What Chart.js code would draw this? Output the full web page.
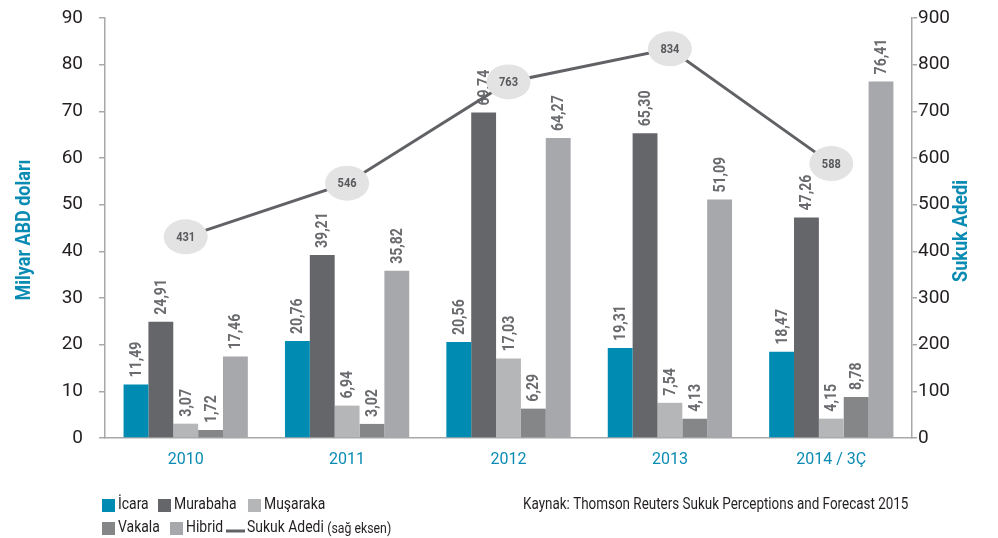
<!DOCTYPE html>
<html>
<head>
<meta charset="utf-8">
<script src="https://cdn.jsdelivr.net/npm/chart.js@4.4.0/dist/chart.umd.min.js"></script>
<style>
  html, body { margin: 0; padding: 0; background: #fff; }
  #wrap { width: 998px; height: 538px; }
</style>
</head>
<body>
<div id="wrap"><canvas id="sukuk-chart" width="998" height="538"></canvas></div>
<script>
// Chart data
const years = ['2010', '2011', '2012', '2013', '2014 / 3Ç'];
const icara = [11.49, 20.76, 20.56, 19.31, 18.47];
const murabaha = [24.91, 39.21, 69.74, 65.30, 47.26];
const musaraka = [3.07, 6.94, 17.03, 7.54, 4.15];
const vakala = [1.72, 3.02, 6.29, 4.13, 8.78];
const hibrid = [17.46, 35.82, 64.27, 51.09, 76.41];
const sukukCount = [431, 546, 763, 834, 588];
const leftTicks = [0, 10, 20, 30, 40, 50, 60, 70, 80, 90];
const rightTicks = [0, 100, 200, 300, 400, 500, 600, 700, 800, 900];

const FONT = "Roboto, 'Liberation Sans', sans-serif";
const TEAL = '#0a8bb3';
const AXIS = '#a8a8aa';
const INK = '#231f20';

// Colors per series
const colors = {
    icara: '#008bb2',
    murabaha: '#656669',
    musaraka: '#b5b6b8',
    vakala: '#858688',
    hibrid: '#a7a8ab',
    line: '#616265'
};

function barSet(label, data, color) {
    return {
        type: 'bar',
        label: label,
        data: data,
        backgroundColor: color,
        borderWidth: 0,
        yAxisID: 'y',
        order: 1,
        barPercentage: 1,
        categoryPercentage: 0.77
    };
}

// Text squeezed horizontally to look like a condensed face
function narrowText(ctx, text, x, y, squeeze) {
    ctx.save();
    ctx.translate(x, y);
    ctx.scale(squeeze, 1);
    ctx.fillText(text, 0, 0);
    ctx.restore();
}

// Draw value labels, bubbles, legend and titles
const decorPlugin = {
    id: 'decor',
    afterDatasetDraw(chart, args) {
        const ds = chart.data.datasets[args.index];
        if (ds.type !== 'bar') return;
        const ctx = chart.ctx;
        ctx.save();
        ctx.fillStyle = '#6a6b6e';
        ctx.font = 'bold 16px ' + FONT;
        ctx.textAlign = 'left';
        ctx.textBaseline = 'middle';
        args.meta.data.forEach((bar, i) => {
            const text = ds.data[i].toFixed(2).replace('.', ',');
            ctx.save();
            ctx.translate(bar.x + 1, bar.y - 7);
            ctx.rotate(-Math.PI / 2);
            narrowText(ctx, text, 0, 0, 0.88);
            ctx.restore();
        });
        ctx.restore();
    },
    afterDatasetsDraw(chart) {
        const ctx = chart.ctx;
        chart.data.datasets.forEach((ds, di) => {
            if (ds.type !== 'line') return;
            const meta = chart.getDatasetMeta(di);
            meta.data.forEach((pt, i) => {
                ctx.save();
                ctx.beginPath();
                ctx.ellipse(pt.x, pt.y, 22, 17.5, 0, 0, Math.PI * 2);
                ctx.fillStyle = '#e3e3e4';
                ctx.fill();
                ctx.fillStyle = '#58595c';
                ctx.font = 'bold 13px ' + FONT;
                ctx.textAlign = 'center';
                ctx.textBaseline = 'middle';
                narrowText(ctx, String(ds.data[i]), pt.x, pt.y + 1, 0.85);
                ctx.restore();
            });
        });
    },
    afterDraw(chart) {
        const ctx = chart.ctx;
        const area = chart.chartArea;
        const midY = (area.top + area.bottom) / 2;
        ctx.save();

        // Axis titles
        ctx.fillStyle = TEAL;
        ctx.font = 'bold 20px ' + FONT;
        ctx.textAlign = 'center';
        ctx.textBaseline = 'middle';
        ctx.save();
        ctx.translate(25, midY + 2);
        ctx.rotate(-Math.PI / 2);
        narrowText(ctx, 'Milyar ABD doları', 0, 0, 0.9);
        ctx.restore();
        ctx.save();
        ctx.translate(962, midY + 3);
        ctx.rotate(-Math.PI / 2);
        narrowText(ctx, 'Sukuk Adedi', 0, 0, 0.9);
        ctx.restore();

        // Legend
        const ds = chart.data.datasets;
        const items = [
            { ds: ds[1], x: 102, y: 505 },
            { ds: ds[2], x: 158, y: 505 },
            { ds: ds[3], x: 248, y: 505 },
            { ds: ds[4], x: 102, y: 528 },
            { ds: ds[5], x: 170, y: 528 },
            { ds: ds[0], x: 226, y: 528 }
        ];
        const squeeze = 0.82;
        ctx.textAlign = 'left';
        ctx.textBaseline = 'middle';
        items.forEach(item => {
            let tx;
            if (item.ds.type === 'line') {
                ctx.strokeStyle = item.ds.borderColor;
                ctx.lineWidth = 3;
                ctx.beginPath();
                ctx.moveTo(item.x, item.y + 3);
                ctx.lineTo(item.x + 19, item.y + 3);
                ctx.stroke();
                tx = item.x + 21;
            } else {
                ctx.fillStyle = item.ds.backgroundColor;
                ctx.fillRect(item.x, item.y - 6, 13, 13);
                tx = item.x + 16;
            }
            ctx.fillStyle = INK;
            ctx.font = '17px ' + FONT;
            narrowText(ctx, item.ds.label, tx, item.y, squeeze);
            if (item.ds.type === 'line') {
                const w = ctx.measureText(item.ds.label + ' ').width * squeeze;
                ctx.font = '15px ' + FONT;
                narrowText(ctx, '(sağ eksen)', tx + w, item.y + 1, squeeze);
            }
        });

        // Source
        ctx.font = '16px ' + FONT;
        ctx.fillStyle = INK;
        narrowText(ctx, 'Kaynak: Thomson Reuters Sukuk Perceptions and Forecast 2015', 523, 505, 0.84);
        ctx.restore();
    }
};

const ctx = document.getElementById('sukuk-chart').getContext('2d');
const chart = new Chart(ctx, {
    data: {
        labels: years,
        datasets: [
            {
                type: 'line',
                label: 'Sukuk Adedi',
                data: sukukCount,
                borderColor: colors.line,
                borderWidth: 3,
                pointRadius: 0,
                fill: false,
                tension: 0,
                yAxisID: 'y1',
                order: 0
            },
            barSet('İcara', icara, colors.icara),
            barSet('Murabaha', murabaha, colors.murabaha),
            barSet('Muşaraka', musaraka, colors.musaraka),
            barSet('Vakala', vakala, colors.vakala),
            barSet('Hibrid', hibrid, colors.hibrid)
        ]
    },
    options: {
        responsive: false,
        animation: false,
        devicePixelRatio: 1,
        layout: { padding: { top: 18, left: 0, right: 0, bottom: 0 } },
        plugins: {
            legend: { display: false },
            tooltip: { enabled: false }
        },
        scales: {
            x: {
                offset: true,
                grid: { display: false, drawTicks: false },
                border: { display: true, color: AXIS, width: 1.5 },
                ticks: { color: TEAL, font: { family: FONT, size: 16 }, padding: 12 },
                afterFit: s => { s.height = 100; }
            },
            y: {
                position: 'left',
                min: 0,
                max: 90,
                afterBuildTicks: s => { s.ticks = leftTicks.map(v => ({ value: v })); },
                grid: { drawOnChartArea: false, tickLength: 6, color: AXIS, lineWidth: 1.5 },
                border: { display: true, color: AXIS, width: 1.5 },
                ticks: { color: INK, font: { family: FONT, size: 19 }, padding: 16 },
                afterFit: s => { s.width = 105; s.paddingTop = 10; }
            },
            y1: {
                position: 'right',
                min: 0,
                max: 900,
                afterBuildTicks: s => { s.ticks = rightTicks.map(v => ({ value: v })); },
                grid: { drawOnChartArea: false, tickLength: 5, color: AXIS, lineWidth: 1.5 },
                border: { display: true, color: AXIS, width: 1.5 },
                ticks: { color: INK, font: { family: FONT, size: 19 }, padding: 1 },
                afterFit: s => { s.width = 86; s.paddingTop = 10; }
            }
        }
    },
    plugins: [decorPlugin]
});
</script>
</body>
</html>
